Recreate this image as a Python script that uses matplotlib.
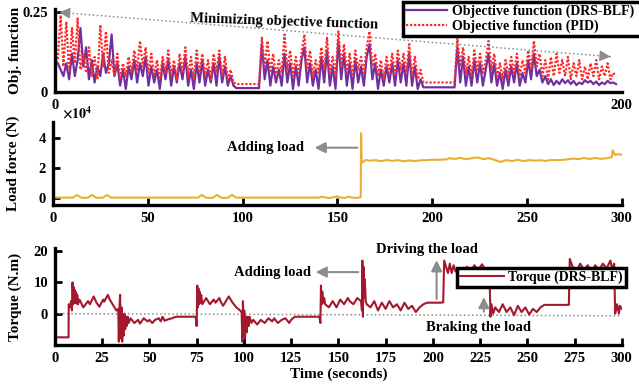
import numpy as np
import matplotlib.pyplot as plt

plt.rcParams['font.family'] = ['Liberation Serif', 'DejaVu Serif']
plt.rcParams['font.weight'] = 'bold'
plt.rcParams['axes.labelweight'] = 'bold'
plt.rcParams['mathtext.fontset'] = 'stix'

# --- objective function (top panel), one sample per second, 0..198 s
obj_pid = [
    0.10, 0.10, 0.24, 0.08, 0.22, 0.06, 0.20, 0.09, 0.23, 0.07,
    0.12, 0.06, 0.14, 0.05, 0.11, 0.04, 0.21, 0.08, 0.19, 0.06,
    0.10, 0.05, 0.12, 0.04, 0.09, 0.05, 0.11, 0.06, 0.13, 0.07,
    0.16, 0.08, 0.14, 0.06, 0.12, 0.05, 0.10, 0.04, 0.11, 0.06,
    0.13, 0.05, 0.10, 0.04, 0.12, 0.06, 0.14, 0.05, 0.11, 0.04,
    0.13, 0.06, 0.12, 0.05, 0.10, 0.04, 0.12, 0.06, 0.13, 0.05,
    0.11, 0.04, 0.07, 0.03, 0.025, 0.025, 0.025, 0.025, 0.025, 0.025,
    0.025, 0.025, 0.025, 0.17, 0.08, 0.16, 0.06, 0.12, 0.05, 0.10,
    0.06, 0.18, 0.07, 0.13, 0.05, 0.11, 0.06, 0.12, 0.18, 0.07,
    0.13, 0.05, 0.10, 0.06, 0.14, 0.07, 0.17, 0.06, 0.11, 0.05,
    0.19, 0.08, 0.15, 0.06, 0.12, 0.05, 0.13, 0.07, 0.11, 0.06,
    0.14, 0.19, 0.08, 0.12, 0.05, 0.10, 0.04, 0.11, 0.06, 0.12,
    0.05, 0.13, 0.07, 0.12, 0.06, 0.15, 0.05, 0.11, 0.04, 0.07,
    0.03, 0.03, 0.03, 0.03, 0.03, 0.03, 0.03, 0.03, 0.03, 0.03,
    0.03, 0.03, 0.17, 0.08, 0.14, 0.06, 0.11, 0.05, 0.13, 0.07,
    0.12, 0.06, 0.10, 0.16, 0.07, 0.12, 0.05, 0.09, 0.04, 0.10,
    0.05, 0.11, 0.06, 0.12, 0.05, 0.10, 0.06, 0.13, 0.07, 0.16,
    0.08, 0.12, 0.05, 0.10, 0.04, 0.11, 0.05, 0.12, 0.06, 0.10,
    0.05, 0.11, 0.04, 0.09, 0.05, 0.10, 0.04, 0.08, 0.04, 0.09,
    0.05, 0.10, 0.04, 0.08, 0.05, 0.09, 0.04, 0.06, 0.05,
]
obj_drs = [
    0.10, 0.09, 0.07, 0.05, 0.09, 0.04, 0.12, 0.05, 0.10, 0.20,
    0.08, 0.14, 0.04, 0.10, 0.03, 0.08, 0.05, 0.12, 0.06, 0.09,
    0.18, 0.05, 0.09, 0.02, 0.07, 0.01, 0.08, 0.04, 0.10, 0.03,
    0.09, 0.05, 0.11, 0.02, 0.08, 0.03, 0.07, 0.01, 0.09, 0.04,
    0.10, 0.02, 0.08, 0.03, 0.09, 0.04, 0.11, 0.02, 0.07, 0.01,
    0.09, 0.03, 0.10, 0.02, 0.07, 0.03, 0.09, 0.02, 0.11, 0.03,
    0.08, 0.02, 0.05, 0.02, 0.0125, 0.0125, 0.0125, 0.0125, 0.0125, 0.0125,
    0.0125, 0.0125, 0.0125, 0.15, 0.04, 0.10, 0.02, 0.08, 0.03, 0.07,
    0.02, 0.12, 0.03, 0.09, 0.01, 0.08, 0.02, 0.10, 0.14, 0.03,
    0.09, 0.02, 0.07, 0.01, 0.11, 0.03, 0.13, 0.02, 0.08, 0.01,
    0.16, 0.04, 0.12, 0.02, 0.09, 0.01, 0.10, 0.03, 0.08, 0.02,
    0.11, 0.15, 0.04, 0.09, 0.01, 0.07, 0.02, 0.08, 0.03, 0.09,
    0.02, 0.10, 0.03, 0.09, 0.02, 0.12, 0.02, 0.08, 0.01, 0.04,
    0.015, 0.015, 0.015, 0.015, 0.015, 0.015, 0.015, 0.015, 0.015, 0.015,
    0.015, 0.015, 0.14, 0.03, 0.11, 0.02, 0.08, 0.02, 0.10, 0.03,
    0.09, 0.02, 0.07, 0.12, 0.03, 0.09, 0.02, 0.06, 0.01, 0.07,
    0.02, 0.08, 0.03, 0.09, 0.02, 0.06, 0.03, 0.10, 0.04, 0.12,
    0.05, 0.07, 0.03, 0.05, 0.025, 0.04, 0.022, 0.035, 0.025, 0.04,
    0.028, 0.037, 0.025, 0.035, 0.022, 0.03, 0.025, 0.037, 0.03, 0.035,
    0.025, 0.033, 0.022, 0.03, 0.025, 0.035, 0.028, 0.03, 0.025,
]

# --- load force (middle panel), N
load_t = [0, 10.5, 12.6, 14.8, 16.5, 18.4, 20.5, 22.6, 24.5, 26.4, 28.5, 30.6,
          76.4, 78.5, 80.6, 82.5, 84.4, 86.5, 88.6, 90.5, 92.3, 94.4, 96.5,
          140, 142, 144, 146, 148, 150, 152, 154, 156, 158, 160, 162.3,
          162.5, 162.8, 163.3, 165, 167, 170, 173, 176, 179, 182, 185, 188,
          191, 194, 197, 200, 203, 206, 208, 209, 212, 215, 218, 221, 224,
          227, 230, 233, 236, 239, 242, 245, 248, 251, 254, 257, 260, 263,
          266, 269, 272, 274, 277, 280, 283, 286, 289, 292, 294, 294.8,
          295.2, 296.5, 298, 300]
load_v = [0, 0, 1800, 0, -200, 0, 1800, 0, -200, 0, 1800, 0,
          0, 1800, 0, -200, 0, 1800, 0, -200, 0, 1800, 0,
          0, 600, 0, -300, 300, 800, 0, -200, 600, 0, -200, 300,
          43000, 25000, 23500, 25200, 24600, 25000, 24300, 25100, 24500, 25000, 24200, 24800,
          24400, 24900, 25000, 25300, 25200, 25400, 25600, 26300, 25800, 26500, 25600, 26300, 26800,
          25700, 26300, 25100, 23800, 25000, 24400, 25200, 24400, 25000, 24700, 24900, 24500, 25100,
          25000, 25200, 25600, 26000, 25700, 26400, 25800, 26400, 25900, 26200, 26800, 27000,
          31500, 28500, 29000, 28500]

# --- torque (bottom panel), N.m
torque_t = [0, 7.2, 7.3, 8, 8.5, 9, 9.3, 9.7, 10, 10.3, 10.6, 10.9, 11.2, 11.5, 11.8,
            12.2, 13, 15, 17.5, 18.5, 20.5, 22, 23.5, 25.5, 26, 28, 29, 31, 32.5, 33.5,
            33.8, 34.2, 34.5, 34.8, 35.2, 35.6, 36, 36.4, 36.8, 37.2, 37.6, 38, 38.5, 39,
            40, 42, 44, 45, 47, 49, 50, 51.5, 53, 55, 56, 57, 58, 60, 62, 64, 74.5,
            75, 75.3, 75.7, 76, 76.3, 76.6, 77, 77.4, 78, 80, 82, 84, 85, 87, 88, 89,
            91, 92, 94, 96, 98, 98.8,
            99.2, 99.5, 99.8, 100.2, 100.6, 101, 101.5, 102, 102.5, 103, 104, 105, 107,
            109, 111, 113, 115, 116, 118, 120, 122, 124, 125, 127, 140,
            140.5, 140.8, 141.2, 141.5, 142, 142.5, 143, 145, 147, 149, 151, 153, 155,
            156, 158, 160, 162, 162.5,
            162.7, 163, 163.3, 163.7, 164, 164.5, 165, 167, 169, 171, 173, 175, 177,
            179, 181, 183, 185, 187, 189, 191, 193, 195, 197, 204, 205.5,
            206, 207, 208, 209, 210, 211, 212, 214, 216, 218, 220, 222, 224, 226, 228,
            230, 230.5,
            231, 232, 233, 235, 237, 239, 241, 243, 245, 247, 249, 251, 253, 255, 257,
            259, 272,
            272.5, 274, 276, 278, 280, 282, 284, 286, 288, 290, 292, 294, 295, 296,
            296.5, 297.5, 298.5, 299, 300]
torque_v = [-7.6, -7.6, 3, 2, 4, 1, 10, 3, 8.5, 3.5, 7.5, 3.5, 6.8, 3.2, 6,
            3, 4.5, 2, 4, 3, 5.5, 3.5, 2.2, 4.5, 3.8, 6, 4.5, 2.5, 1, 1.5,
            -9, 3, 6, -8, 2, -9, -1, -7, 0, -5, -1, -4, -1, -3,
            -1.5, -3, -2, -3.2, -1.5, -2.5, -2, -3, -2, -1.5, -2.5, -1, -2.3, -1.8, -1.5, -1, -1,
            -4, 9, 2, 8, 3, 7, 3.5, 6, 3, 5, 3, 4.5, 3.5, 5, 3.5, 2.5,
            4.5, 5.5, 3.5, 2, 1, 0.5,
            -9, 4, -7, 1, -8, -1, -6, -1, -4, -1, -3, -2, -3.5,
            -2, -3, -1.5, -2.5, -1.5, -3, -2, -1.5, -3, -2, -1, -1,
            -3, 9, 3, 7, 3.5, 5, 3, 2, 4, 2, 4.5, 3, 5,
            4, 3, 5, 4, 1,
            17, -1, 15, 5, 11, 4, 3, 2, 4, 1, 3.5, 1.5, 4,
            2, 3, 1, 3.5, 1.5, 2.5, 0.5, 2, 3, 3.5, 3.5, 3.6,
            17, 15, 13, 16, 13, 15.5, 13.5, 14.5, 13, 15, 13.5, 15.5, 14, 15.8, 14,
            13.5, -1,
            3, 0, 2, 0.5, 3, 0.5, 2, -0.5, 2.5, 0.5, 2, -0.3, 1.5, 0.5, 2,
            2.8, 2.8,
            17.5, 15, 13.5, 16, 14, 15.5, 13.5, 15.5, 14, 16, 14.5, 17, 14, 16,
            0, 3, 0, 2.5, 1.5]

# gray dotted guide lines
trend_t = [0.5, 197]
trend_v = [0.25, 0.11]
zero_t = [0, 300]
zero_v = [0, -0.7]

PURPLE = '#7030a0'
RED = '#ff2a2a'
GOLD = '#e8b030'
MAROON = '#a3182c'
GRAY = '#8c8c8c'
FS = 10.5


def style_axes(ax):
    for side in ['top', 'right']:
        ax.spines[side].set_visible(False)
    for side in ['left', 'bottom']:
        ax.spines[side].set_linewidth(2.4)
    ax.tick_params(direction='in', length=5, width=2, labelsize=FS, pad=5)
    ax.yaxis.set_label_coords(-0.058, 0.5)


fig = plt.figure(figsize=(6.39, 3.87), dpi=100)
ax1 = fig.add_axes([0.086, 0.762, 0.887, 0.215])
ax2 = fig.add_axes([0.083, 0.470, 0.890, 0.215])
ax3 = fig.add_axes([0.086, 0.109, 0.887, 0.250])

# top: objective function
t_obj = np.arange(len(obj_pid))
ax1.plot(t_obj, obj_drs, color=PURPLE, lw=1.6, label='Objective function (DRS-BLF)')
ax1.plot(t_obj, obj_pid, color=RED, lw=1.6, ls=(0, (1, 0.8)), label='Objective function (PID)')
ax1.plot(trend_t, trend_v, color=GRAY, lw=1.1, ls=':')
ax1.annotate('', xy=(trend_t[0], trend_v[0]), xytext=(trend_t[0] + 4, trend_v[0] - 0.0028),
             arrowprops=dict(arrowstyle='-|>', color=GRAY, lw=1, mutation_scale=16))
ax1.annotate('', xy=(trend_t[1], trend_v[1]), xytext=(trend_t[1] - 4, trend_v[1] + 0.0028),
             arrowprops=dict(arrowstyle='-|>', color=GRAY, lw=1, mutation_scale=16))
ax1.text(81, 0.219, 'Minimizing objective function', fontsize=FS, ha='center', va='center',
         rotation=-2)
ax1.set_xlim(0, 200)
ax1.set_ylim(0, 0.26)
ax1.set_xticks([0, 200])
ax1.set_yticks([0, 0.25])
ax1.set_yticklabels(['0', '0.25'])
style_axes(ax1)
ax1.tick_params(axis='x', length=0)
ax1.set_ylabel('Obj. function', fontsize=11)
# legend box runs past the right edge of the figure, as in the reference
leg1 = ax1.legend(loc='upper left', bbox_to_anchor=(403 / 639, 1 - 2 / 387, 0.4, 0.0),
                  bbox_transform=fig.transFigure, mode='expand', fontsize=10,
                  frameon=True, fancybox=False, framealpha=1, borderaxespad=0,
                  borderpad=0.2, labelspacing=0.12, handlelength=3.0, handletextpad=0.3)
leg1.get_frame().set_edgecolor('black')
leg1.get_frame().set_linewidth(2.5)

# middle: load force
ax2.plot(load_t, load_v, color=GOLD, lw=1.5)
ax2.annotate('', xy=(136.5, 33300), xytext=(162, 33300),
             arrowprops=dict(arrowstyle='-|>', color=GRAY, lw=1.5, mutation_scale=16))
ax2.text(112, 33300, 'Adding load', fontsize=FS, ha='center', va='center')
ax2.set_xlim(0, 300)
ax2.set_ylim(-5000, 50500)
ax2.set_xticks(np.arange(0, 301, 50))
ax2.set_yticks([0, 20000, 40000])
ax2.set_yticklabels(['0', '2', '4'])
style_axes(ax2)
ax2.set_ylabel('Load force (N)', fontsize=11)
# axis multiplier, placed where the reference shows it
ax2.text(0.015, 1.0, r'$\times10^{4}$', transform=ax2.transAxes, fontsize=10,
         ha='left', va='bottom')

# bottom: torque
ax3.plot(zero_t, zero_v, color=GRAY, lw=1.1, ls=':')
ax3.plot(torque_t, torque_v, color=MAROON, lw=1.5, label='Torque (DRS-BLF)')
ax3.annotate('', xy=(136.5, 13.3), xytext=(162, 13.3),
             arrowprops=dict(arrowstyle='-|>', color=GRAY, lw=1.5, mutation_scale=16))
ax3.text(115, 13.3, 'Adding load', fontsize=FS, ha='center', va='center')
ax3.annotate('', xy=(202, 18), xytext=(202, 3.8),
             arrowprops=dict(arrowstyle='-|>', color=GRAY, lw=1.5, mutation_scale=16))
ax3.text(197, 20.6, 'Driving the load', fontsize=FS, ha='center', va='center')
ax3.annotate('', xy=(227, 6.2), xytext=(227, -0.3),
             arrowprops=dict(arrowstyle='-|>', color=GRAY, lw=1.5, mutation_scale=16))
ax3.text(224, -4.4, 'Braking the load', fontsize=FS, ha='center', va='center')
ax3.set_xlim(0, 300)
ax3.set_ylim(-10, 21)
ax3.set_xticks(np.arange(0, 301, 25))
ax3.set_yticks([0, 10, 20])
style_axes(ax3)
ax3.set_ylabel('Torque (N.m)', fontsize=11)
ax3.set_xlabel('Time (seconds)', fontsize=11, labelpad=2)
leg3 = ax3.legend(loc='upper left', bbox_to_anchor=(457 / 639, 1 - 268 / 387),
                  bbox_transform=fig.transFigure, fontsize=10, frameon=True,
                  fancybox=False, framealpha=1, borderaxespad=0, borderpad=0.2,
                  handlelength=3.2, handletextpad=0.3)
leg3.get_frame().set_edgecolor('black')
leg3.get_frame().set_linewidth(2.5)

fig.savefig('out.png', dpi=100)
